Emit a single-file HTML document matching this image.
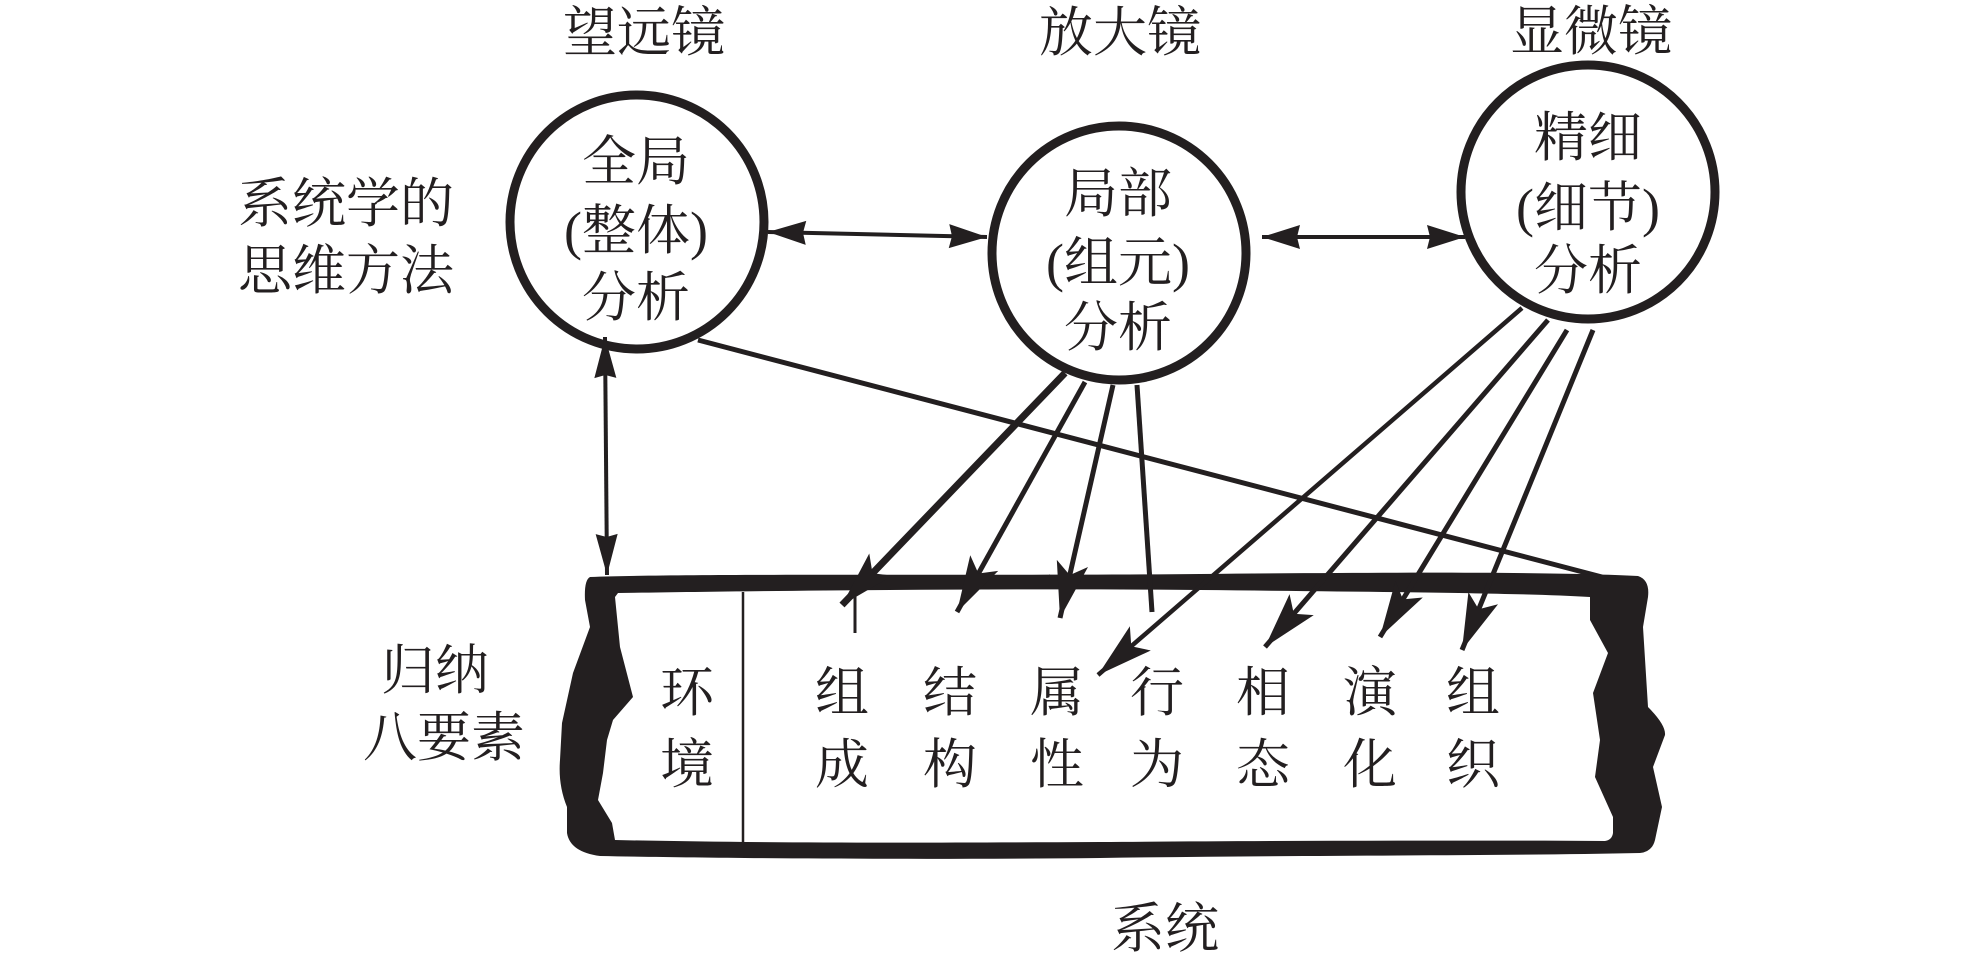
<!DOCTYPE html>
<html>
<head>
<meta charset="utf-8">
<style>
html,body{margin:0;padding:0;background:#fff;}
svg{display:block;}
text{font-family:"Liberation Serif","Noto Serif CJK SC",serif;font-size:54px;fill:#231f20;text-anchor:middle;}
</style>
</head>
<body>
<svg width="1969" height="961" viewBox="0 0 1969 961" xmlns="http://www.w3.org/2000/svg">
<defs>
  <marker id="big" markerUnits="userSpaceOnUse" markerWidth="64" markerHeight="44" viewBox="-2 -22 64 44" refX="56" refY="0" orient="auto">
    <path d="M56,0 L0,-16 L12,0 L0,16 Z" fill="#231f20"/>
  </marker>
  <marker id="hs" markerUnits="userSpaceOnUse" markerWidth="46" markerHeight="32" viewBox="-2 -16 46 32" refX="38" refY="0" orient="auto-start-reverse">
    <path d="M38,0 L0,-12 L3,0 L0,12 Z" fill="#231f20"/>
  </marker>
  <marker id="vs" markerUnits="userSpaceOnUse" markerWidth="48" markerHeight="32" viewBox="-2 -16 48 32" refX="41" refY="0" orient="auto-start-reverse">
    <path d="M41,0 L0,-11 L3,0 L0,11 Z" fill="#231f20"/>
  </marker>
</defs>

<!-- Top labels -->
<text x="644" y="51">望远镜</text>
<text x="1120" y="51">放大镜</text>
<text x="1591" y="50">显微镜</text>

<!-- Left labels -->
<text x="346" y="222">系统学的</text>
<text x="346" y="289">思维方法</text>
<text x="435" y="689">归纳</text>
<text x="444" y="756">八要素</text>
<text x="1165" y="947">系统</text>

<!-- Circles -->
<circle cx="637" cy="222" r="127" fill="none" stroke="#231f20" stroke-width="9"/>
<circle cx="1119" cy="253" r="127" fill="none" stroke="#231f20" stroke-width="9"/>
<circle cx="1588" cy="192" r="127" fill="none" stroke="#231f20" stroke-width="9"/>

<!-- Circle texts -->
<text x="636" y="180">全局</text>
<text x="636" y="249">(整体)</text>
<text x="636" y="316">分析</text>

<text x="1118" y="212">局部</text>
<text x="1118" y="281">(组元)</text>
<text x="1118" y="346">分析</text>

<text x="1588" y="156">精细</text>
<text x="1588" y="226">(细节)</text>
<text x="1588" y="289">分析</text>

<!-- Horizontal double arrows -->
<line x1="768" y1="232" x2="987" y2="237" stroke="#231f20" stroke-width="4" marker-start="url(#hs)" marker-end="url(#hs)"/>
<line x1="1262" y1="237" x2="1465" y2="237" stroke="#231f20" stroke-width="4" marker-start="url(#hs)" marker-end="url(#hs)"/>

<!-- Vertical double arrow -->
<line x1="605" y1="337" x2="607" y2="575" stroke="#231f20" stroke-width="4" marker-start="url(#vs)" marker-end="url(#vs)"/>

<!-- Long line from circle 1 to box corner -->
<line x1="698" y1="340" x2="1602" y2="577" stroke="#231f20" stroke-width="5"/>

<!-- Box -->
<path fill="#231f20" fill-rule="evenodd" d="
M590,577 C700,573 1000,576 1200,574 C1400,572 1560,572 1638,576 Q1650,580 1648,597
L1643,627 L1648,707 Q1666,725 1665,735 L1653,767 L1662,807 L1655,840 Q1652,852 1640,853
C1500,856 1300,855 1100,858 C900,860 700,858 600,856 Q570,852 567,833
L567,807 Q558,785 560,760 L562,723 L573,673 L590,627 L585,600 Q584,580 590,577 Z
M618,593 C750,591 1000,588 1200,590 C1400,592 1520,593 1590,597
L1590,620 L1608,653 L1593,693 L1600,740 L1595,777 L1613,817 L1613,833 Q1612,840 1605,841
C1450,840 1250,841 1100,842 C900,843 750,843 615,840
L612,823 L598,800 L603,773 L607,740 L613,720 L633,697 L620,647 L615,597 Z"/>
<line x1="743" y1="592" x2="743" y2="843" stroke="#231f20" stroke-width="2.5"/>

<!-- Lines from circle 2 -->
<line x1="1065" y1="373" x2="842" y2="605" stroke="#231f20" stroke-width="7" marker-end="url(#big)"/>
<line x1="855" y1="588" x2="855" y2="633" stroke="#231f20" stroke-width="3"/>
<line x1="1085" y1="382" x2="957" y2="612" stroke="#231f20" stroke-width="5" marker-end="url(#big)"/>
<line x1="1113" y1="385" x2="1060" y2="618" stroke="#231f20" stroke-width="5" marker-end="url(#big)"/>
<line x1="1137" y1="385" x2="1152" y2="612" stroke="#231f20" stroke-width="5"/>

<!-- Lines from circle 3 -->
<line x1="1522" y1="308" x2="1098" y2="675" stroke="#231f20" stroke-width="4.5" marker-end="url(#big)"/>
<line x1="1548" y1="320" x2="1265" y2="647" stroke="#231f20" stroke-width="5" marker-end="url(#big)"/>
<line x1="1567" y1="330" x2="1380" y2="637" stroke="#231f20" stroke-width="5" marker-end="url(#big)"/>
<line x1="1593" y1="330" x2="1462" y2="650" stroke="#231f20" stroke-width="5" marker-end="url(#big)"/>

<!-- Box texts -->
<text x="687" y="711">环</text><text x="687" y="783">境</text>
<text x="842" y="711">组</text><text x="842" y="783">成</text>
<text x="950" y="711">结</text><text x="950" y="783">构</text>
<text x="1057" y="711">属</text><text x="1057" y="783">性</text>
<text x="1157" y="711">行</text><text x="1157" y="783">为</text>
<text x="1263" y="711">相</text><text x="1263" y="783">态</text>
<text x="1370" y="711">演</text><text x="1370" y="783">化</text>
<text x="1473" y="711">组</text><text x="1473" y="783">织</text>
</svg>
</body>
</html>
